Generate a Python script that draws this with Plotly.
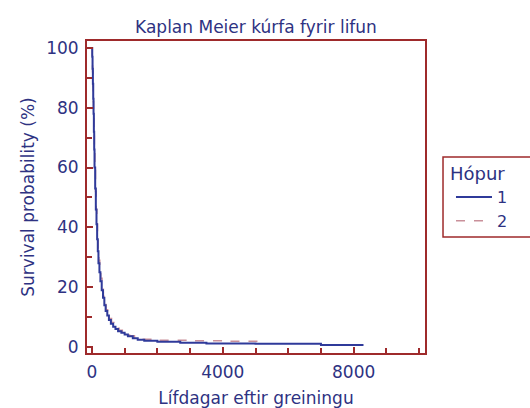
import plotly.graph_objects as go

# Group 1 (solid)
t1 = [0, 10, 20, 30, 40, 50, 60, 70, 80, 100, 120, 140, 160, 180, 200, 230, 260, 300, 340, 380,
      420, 470, 520, 580, 650, 720, 800, 900, 1000, 1100, 1250, 1400, 1600, 2000, 2700, 3500,
      5000, 7000, 8300]
s1 = [100, 97, 93, 88, 83, 78, 72, 66, 60, 53, 46, 41, 36, 32, 28, 25, 22, 19, 16.5, 14,
      12, 10.5, 9, 7.8, 6.8, 6, 5.3, 4.8, 4.2, 3.6, 2.9, 2.4, 2.1, 1.8, 1.4, 1.2,
      1.1, 0.7, 0.7]

# Group 2 (dashed)
t2 = [0, 10, 20, 30, 40, 50, 60, 75, 90, 110, 130, 150, 170, 190, 210, 240, 270, 310, 350, 390,
      430, 480, 540, 600, 670, 750, 830, 930, 1030, 1150, 1300, 1500, 2000, 3000, 4200, 5300]
s2 = [100, 96, 92, 87, 82, 77, 71, 65, 59, 52, 46, 41, 37, 33, 29, 26, 23, 20, 17, 14.5,
      12.5, 11, 9.5, 8.2, 7.2, 6.3, 5.6, 5, 4.4, 3.8, 3.2, 2.6, 2.3, 2.1, 1.9, 1.9]

group_names = ["1", "2"]
x_ticks = [0, 4000, 8000]
y_ticks = [0, 20, 40, 60, 80, 100]

FRAME = "#9e2a2b"
TEXT = "#2e3282"
FONT = "DejaVu Sans, sans-serif"

fig = go.Figure()
fig.add_trace(go.Scatter(x=t2, y=s2, mode="lines", line_shape="hv", name=group_names[1],
                         line=dict(color="#c9909a", width=1.5, dash="dash"), legendrank=2))
fig.add_trace(go.Scatter(x=t1, y=s1, mode="lines", line_shape="hv", name=group_names[0],
                         line=dict(color="#2f3a9a", width=2), legendrank=1))

axis_common = dict(
    showline=True, mirror=True, linecolor=FRAME, linewidth=2,
    ticks="inside", tickcolor=FRAME, ticklen=6, tickwidth=2,
    showgrid=False, zeroline=False, automargin=False,
    tickfont=dict(family=FONT, size=17, color=TEXT),
)

fig.update_layout(
    width=530, height=408,
    margin=dict(l=87, r=105, t=41, b=55, autoexpand=False),
    paper_bgcolor="white", plot_bgcolor="white",
    title=dict(text="Kaplan Meier kúrfa fyrir lifun", x=0.5, xanchor="center",
               xref="paper", y=0.934, yref="container", yanchor="middle",
               font=dict(family=FONT, size=17, color=TEXT)),
    xaxis=dict(range=[-150, 10180], tickvals=x_ticks,
               minor=dict(dtick=1000, tick0=0, ticks="inside", ticklen=5, tickcolor=FRAME, tickwidth=2),
               ticklabelstandoff=3,
               title=dict(text="Lífdagar eftir greiningu", standoff=15,
                          font=dict(family=FONT, size=17, color=TEXT)),
               **axis_common),
    yaxis=dict(range=[-2, 102.3], tickvals=y_ticks,
               minor=dict(dtick=10, tick0=0, ticks="inside", ticklen=5, tickcolor=FRAME, tickwidth=2),
               ticklabelstandoff=3,
               title=dict(text="Survival probability (%)", standoff=7,
                          font=dict(family=FONT, size=17, color=TEXT)),
               **axis_common),
    legend=dict(title=dict(text="Hópur", font=dict(family=FONT, size=18, color=TEXT)),
                x=1.068, xanchor="left", y=0.629, yanchor="top",
                borderwidth=0, bgcolor="rgba(0,0,0,0)",
                font=dict(family=FONT, size=16, color=TEXT),
                tracegroupgap=0, itemwidth=36, indentation=3),
    shapes=[dict(type="rect", xref="paper", yref="paper",
                 x0=1.0533, x1=1.4, y0=0.372, y1=0.628,
                 line=dict(color=FRAME, width=1.5), fillcolor="rgba(0,0,0,0)", layer="below")],
    showlegend=True,
)

fig.write_html("out.html")
